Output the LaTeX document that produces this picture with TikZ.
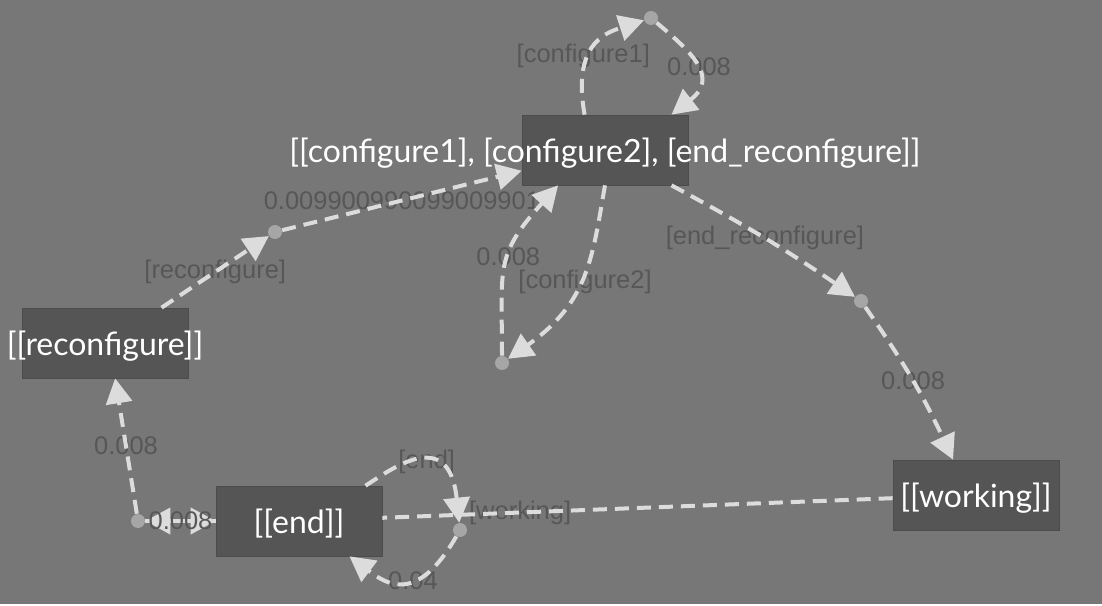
\documentclass[tikz,border=0pt]{standalone}
\usepackage{fontspec}
\setmainfont{Lato}
\newfontfamily\lblfont{Liberation Sans}
\usetikzlibrary{arrows.meta}
\definecolor{bggray}{HTML}{777777}
\definecolor{boxgray}{HTML}{555555}
\definecolor{dotgray}{HTML}{A6A6A6}
\definecolor{edgegray}{HTML}{DCDCDC}
\definecolor{lblgray}{HTML}{575757}
\tikzset{
  stbox/.style={rectangle,fill=boxgray,draw=boxgray!90!black,
                minimum width=3.32cm,minimum height=1.4cm,inner sep=0pt,
                text depth=0pt,font=\fontsize{18.2}{21}\selectfont,text=white},
  dot/.style={circle,fill=dotgray,minimum size=0.28cm,inner sep=0pt},
  dline/.style={line width=0.08cm,color=edgegray,
                dash pattern=on 0.28cm off 0.16cm},
  darr/.style={dline,-{Triangle[length=0.5cm,width=0.52cm]}},
  lbl/.style={font=\lblfont\fontsize{14.5}{17}\selectfont,text=lblgray,
              inner sep=0pt,behind path},
}
\begin{document}
\begin{tikzpicture}[x=0.02cm,y=0.02cm]
  \fill[bggray] (0,0) rectangle (1102,604);

  \node[stbox] (config)  at (605,454) {\makebox[0pt]{[[configure1], [configure2], [end\_reconfigure]]}};
  \node[stbox] (recon)   at (105,261) {\makebox[0pt]{[[reconfigure]]}};
  \node[stbox] (endst)   at (299,83)  {[[end]]};
  \node[stbox] (working) at (976,109) {[[working]]};

  \node[dot] (c1) at (651,586) {};
  \node[dot] (rc) at (275,372) {};
  \node[dot] (c2) at (502,241) {};
  \node[dot] (er) at (861,303) {};
  \node[dot] (en) at (138,83)  {};
  \node[dot] (wk) at (460,74)  {};

  \draw[darr] (config.120) .. controls +(100:70) and +(198:50) .. (c1)
    node[lbl,pos=.4,xshift=-3] {[configure1]};
  \draw[darr] (c1) .. controls +(-40:55) and +(38:60) .. (config.28)
    node[lbl,pos=.5,xshift=2] {0.008};
  \draw[darr] (recon.32) -- node[lbl] {[reconfigure]} (rc);
  \draw[darr] (rc) -- node[lbl] {0.009900990099009901} (config.194);
  \draw[darr] (config.south) .. controls +(260:72) and +(35:106) .. (c2)
    node[lbl,pos=.53,xshift=3] {[configure2]};
  \draw[darr] (c2) .. controls +(90:96) and +(228:95) .. (config.217)
    node[lbl,pos=.55] {0.008};
  \draw[darr] (config.-28) to[bend left=3] node[lbl] {[end\_reconfigure]} (er);
  \draw[darr] (er) to[bend left=5] node[lbl] {0.008} (working.123);
  \draw[darr] (en) -- node[lbl] {0.008} (recon.-74);
  \draw[darr] (endst) -- (en);
  \draw[darr] (en) -- node[lbl,in front of path] {0.008} (endst);
  \draw[darr] (endst.28) .. controls +(32:29) and +(96:106) .. (wk)
    node[lbl,pos=.58] {[end]};
  \draw[darr] (wk) .. controls +(240:85) and +(323:48) .. (endst.-35)
    node[lbl,pos=.4] {0.04};
  \draw[dline] (working) -- node[lbl,pos=.73] {[working]} (endst);
\end{tikzpicture}
\end{document}
